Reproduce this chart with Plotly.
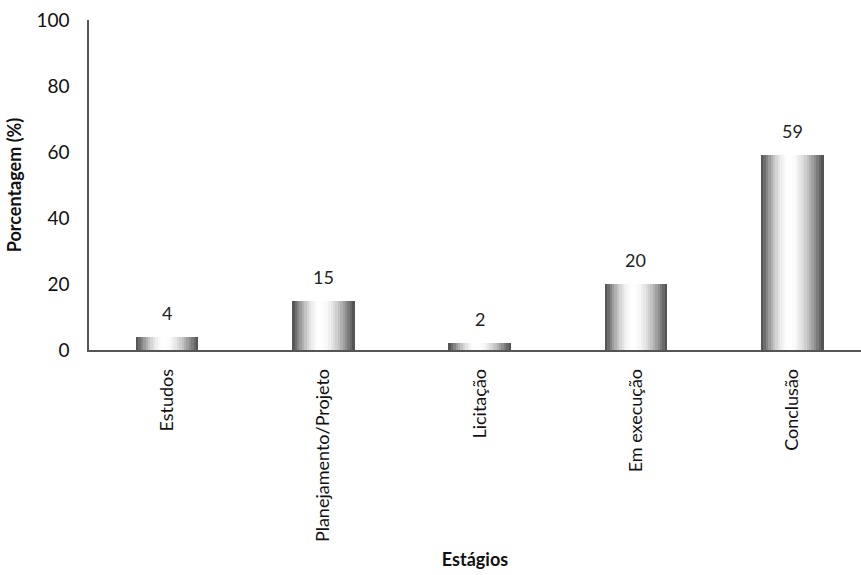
import math
import plotly.graph_objects as go

# Stages and share of works in each stage (%)
estagios = ["Estudos", "Planejamento/Projeto", "Licitação", "Em execução", "Conclusão"]
porcentagem = [4, 15, 2, 20, 59]
y_ticks = [0, 20, 40, 60, 80, 100]

FONT = "Lato"
BAR_W = 0.40      # bar width in category units
N_STRIPS = 26     # vertical strips used to build the metallic shading
PEAK = 0.45       # position of the highlight across the bar


def shade(t):
    """Grey level of the cylinder shading at relative position t (0..1)."""
    if t <= PEAK:
        d = (PEAK - t) / PEAK
    else:
        d = (t - PEAK) / (1 - PEAK)
    v = 74 + 181 * math.cos(d * math.pi / 2)
    v = int(round(max(0, min(255, v))))
    return f"rgb({v},{v},{v})"


fig = go.Figure()

strip_w = BAR_W / N_STRIPS
for i in range(N_STRIPS):
    t = (i + 0.5) / N_STRIPS
    fig.add_trace(go.Bar(
        x=estagios,
        y=porcentagem,
        width=strip_w * 1.02,
        offset=-BAR_W / 2 + i * strip_w,
        marker=dict(color=shade(t), line=dict(width=0)),
        showlegend=False,
        hoverinfo="skip",
    ))

# value labels above the bars
for cat, val in zip(estagios, porcentagem):
    fig.add_annotation(
        x=cat, y=val, text=str(val),
        showarrow=False, yanchor="bottom", yshift=11,
        font=dict(family=FONT, size=18, color="#222"),
    )

fig.update_layout(
    width=861,
    height=575,
    margin=dict(l=89, r=0, t=20, b=225),
    barmode="overlay",
    bargap=0,
    plot_bgcolor="white",
    paper_bgcolor="white",
    font=dict(family=FONT, color="#222"),
)

fig.update_xaxes(
    type="category",
    range=[-0.5, 4.44],
    showgrid=False,
    showline=True,
    linecolor="#555",
    linewidth=1.5,
    ticks="",
    tickangle=-90,
    tickfont=dict(family=FONT, size=18, color="#111"),
    ticklabelstandoff=10,
    title=dict(text="<b>Estágios</b>", font=dict(family=FONT, size=18, color="#111"), standoff=12),
)

fig.update_yaxes(
    range=[0, 100],
    tickvals=y_ticks,
    showgrid=False,
    zeroline=False,
    showline=True,
    linecolor="#555",
    linewidth=1.5,
    ticks="",
    tickfont=dict(family=FONT, size=19, color="#111"),
    ticklabelstandoff=14,
    title=dict(text="<b>Porcentagem (%)</b>", font=dict(family=FONT, size=18, color="#111"), standoff=10),
)

fig.write_html("out.html")
